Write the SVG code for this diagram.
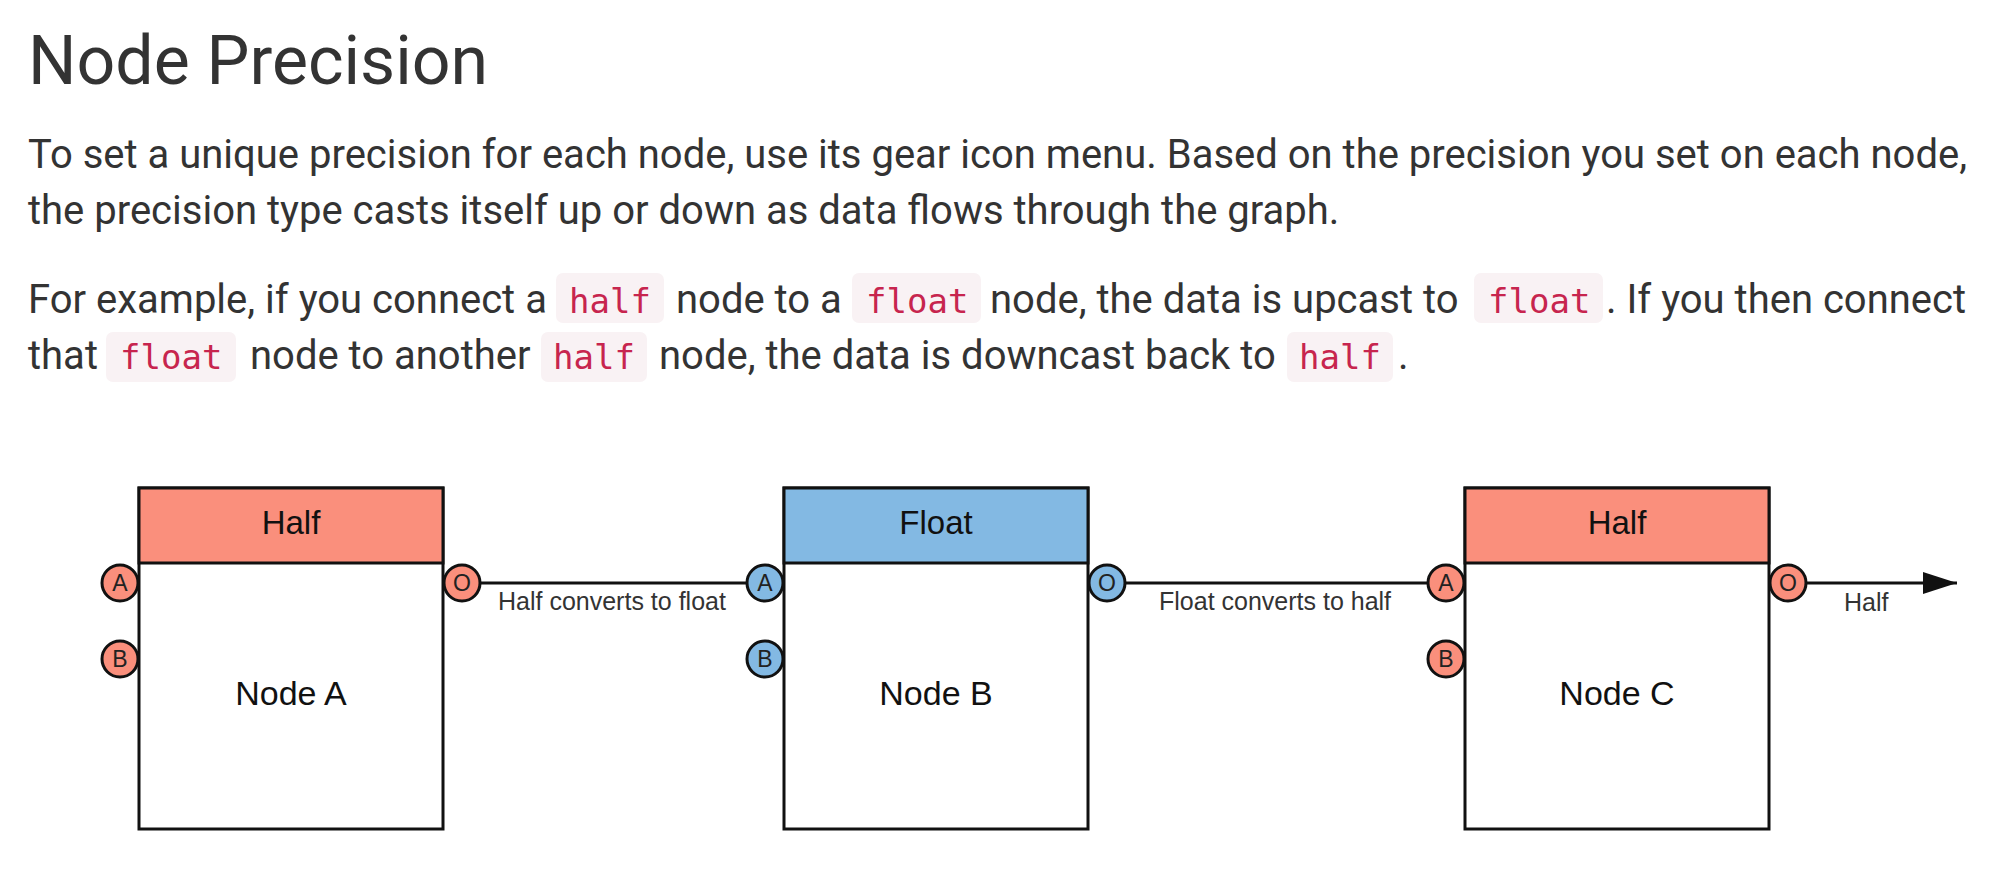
<svg xmlns="http://www.w3.org/2000/svg" width="2000" height="885" viewBox="0 0 2000 885">
<defs>
<style>
.title{font-family:Roboto,"Noto Sans",sans-serif;font-size:68px;fill:#333}
.p{font-family:Roboto,"Noto Sans",sans-serif;font-size:40px;fill:#333}
.code{font-family:"DejaVu Sans Mono","Liberation Mono",monospace;font-size:34px;fill:#c7254e}
.cbg{fill:#f9f2f4}
.hdr{font-family:"Liberation Sans",Arial,sans-serif;font-size:33px;fill:#111;text-anchor:middle}
.nm{font-family:"Liberation Sans",Arial,sans-serif;font-size:34px;fill:#111;text-anchor:middle}
.body{fill:#fff;stroke:#111;stroke-width:3}
.half{fill:#fa8f7c;stroke:#111;stroke-width:3}
.flt{fill:#83b9e3;stroke:#111;stroke-width:3}
.pl{font-family:"Liberation Sans",Arial,sans-serif;font-size:23px;fill:#222;text-anchor:middle}
.lbl{font-family:"Liberation Sans",Arial,sans-serif;font-size:25px;fill:#333}
.wire{stroke:#111;stroke-width:3;fill:none}
</style>
<marker id="arrow" viewBox="0 0 34 22" refX="34" refY="11" markerWidth="34" markerHeight="22" markerUnits="userSpaceOnUse" orient="auto">
<path d="M0,0 L34,11 L0,22 z" fill="#111"/>
</marker>
</defs>
<rect width="2000" height="885" fill="#fff"/>

<g id="text">
<text class="title" x="28" y="84">Node Precision</text>
<text class="p" x="28" y="168">To set a unique precision for each node, use its gear icon menu. Based on the precision you set on each node,</text>
<text class="p" x="28" y="224">the precision type casts itself up or down as data flows through the graph.</text>

<rect class="cbg" x="556" y="273" width="108" height="50" rx="7"/>
<rect class="cbg" x="852" y="273" width="129" height="50" rx="7"/>
<rect class="cbg" x="1474" y="273" width="129" height="50" rx="7"/>
<rect class="cbg" x="106" y="332" width="130" height="50" rx="7"/>
<rect class="cbg" x="541" y="332" width="106" height="50" rx="7"/>
<rect class="cbg" x="1287" y="332" width="106" height="50" rx="7"/>

<text class="p" x="28" y="313">For example, if you connect a</text>
<text class="code" x="569" y="313">half</text>
<text class="p" x="676" y="313">node to a</text>
<text class="code" x="866" y="313">float</text>
<text class="p" x="990" y="313">node, the data is upcast to</text>
<text class="code" x="1488" y="313">float</text>
<text class="p" x="1606" y="313">. If you then connect</text>

<text class="p" x="28" y="369">that</text>
<text class="code" x="120" y="369">float</text>
<text class="p" x="250" y="369">node to another</text>
<text class="code" x="553" y="369">half</text>
<text class="p" x="659" y="369">node, the data is downcast back to</text>
<text class="code" x="1299" y="369">half</text>
<text class="p" x="1398" y="369">.</text>
</g>

<g id="connectors">
<line class="wire" x1="480" y1="583" x2="746" y2="583"/>
<line class="wire" x1="1124" y1="583" x2="1428" y2="583"/>
<line class="wire" x1="1806" y1="583" x2="1957" y2="583" marker-end="url(#arrow)"/>
<text class="lbl" x="498" y="610">Half converts to float</text>
<text class="lbl" x="1159" y="610">Float converts to half</text>
<text class="lbl" x="1844" y="611">Half</text>
</g>

<g id="nodeA">
<rect class="body" x="139" y="488" width="304" height="341"/>
<rect class="half" x="139" y="488" width="304" height="75"/>
<text class="hdr" x="291" y="534">Half</text>
<text class="nm" x="291" y="705">Node A</text>
<circle class="half" cx="120" cy="583" r="18"/>
<text class="pl" x="120" y="591">A</text>
<circle class="half" cx="120" cy="659" r="18"/>
<text class="pl" x="120" y="667">B</text>
<circle class="half" cx="462" cy="583" r="18"/>
<text class="pl" x="462" y="591">O</text>
</g>

<g id="nodeB">
<rect class="body" x="784" y="488" width="304" height="341"/>
<rect class="flt" x="784" y="488" width="304" height="75"/>
<text class="hdr" x="936" y="534">Float</text>
<text class="nm" x="936" y="705">Node B</text>
<circle class="flt" cx="765" cy="583" r="18"/>
<text class="pl" x="765" y="591">A</text>
<circle class="flt" cx="765" cy="659" r="18"/>
<text class="pl" x="765" y="667">B</text>
<circle class="flt" cx="1107" cy="583" r="18"/>
<text class="pl" x="1107" y="591">O</text>
</g>

<g id="nodeC">
<rect class="body" x="1465" y="488" width="304" height="341"/>
<rect class="half" x="1465" y="488" width="304" height="75"/>
<text class="hdr" x="1617" y="534">Half</text>
<text class="nm" x="1617" y="705">Node C</text>
<circle class="half" cx="1446" cy="583" r="18"/>
<text class="pl" x="1446" y="591">A</text>
<circle class="half" cx="1446" cy="659" r="18"/>
<text class="pl" x="1446" y="667">B</text>
<circle class="half" cx="1788" cy="583" r="18"/>
<text class="pl" x="1788" y="591">O</text>
</g>
</svg>
